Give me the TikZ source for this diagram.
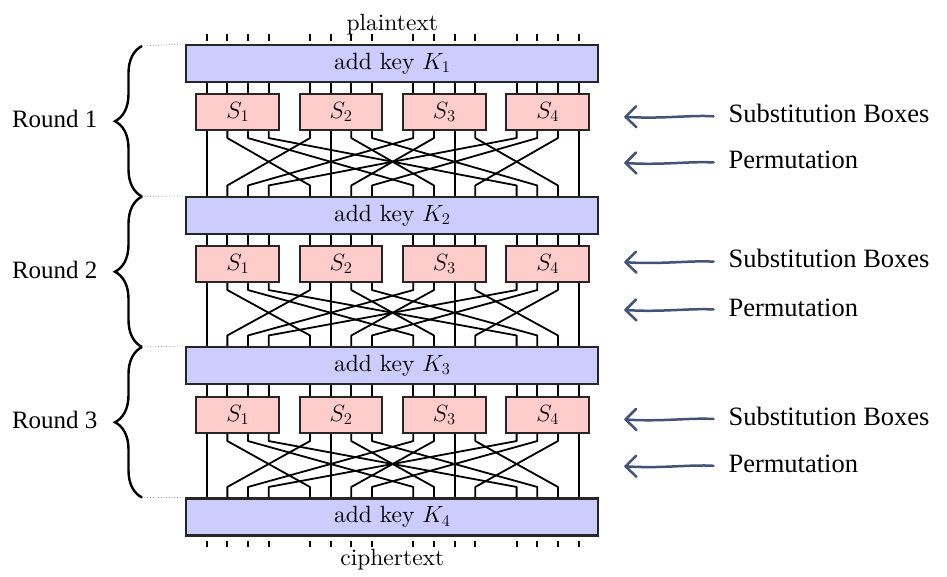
\RequirePackage{fix-cm}
\documentclass[tikz,border=0pt]{standalone}
\usepackage{fontspec}
\newfontfamily\serif{Liberation Serif}
\newfontfamily\lmten{lmroman10-regular}[Extension=.otf]
\usetikzlibrary{decorations.pathreplacing,calc}
\definecolor{keyfill}{RGB}{204,204,255}
\definecolor{sfill}{RGB}{255,204,204}
\definecolor{arrowc}{RGB}{66,82,120}
\begin{document}
\begin{tikzpicture}[x=1pt,y=-1pt,
  diag/.style={font=\lmten\fontsize{23.5}{28}\selectfont},
  keybox/.style={draw=black!85, line width=2.1pt, fill=keyfill, minimum width=412pt, minimum height=37pt, inner sep=0pt, diag},
  sbox/.style={draw=black!85, line width=2.1pt, fill=sfill, minimum width=82.7pt, minimum height=36pt, inner sep=0pt, diag},
  wire/.style={line width=1.8pt, black},
  dotline/.style={dotted, gray, line width=0.7pt},
  rbrace/.style={decorate, decoration={brace, amplitude=27pt}, line width=2.4pt},
  roundlbl/.style={anchor=base east, font=\serif\fontsize{25}{30}\selectfont},
  notelbl/.style={anchor=base west, font=\serif\fontsize{26.5}{30}\selectfont},
  handarrow/.style={arrowc, line width=2.5pt, line cap=round, line join=round}
]
\useasboundingbox (0,0) rectangle (947,577);

% bit positions
\foreach \n in {0,...,15}{
  \pgfmathsetmacro\bx{206.7+103.3*int(\n/4)+20.67*mod(\n,4)}
  \coordinate (b\n) at (\bx,0);
}

% wires first (under the boxes)
\foreach \r/\k/\y in {1/k1/112,2/k2/264,3/k3/415}{}

% key boxes
\node[keybox] (k1) at (392.3,63.5) {add key $K_1$};
\node[keybox] (k2) at (392.3,215.5) {add key $K_2$};
\node[keybox] (k3) at (392.3,365.5) {add key $K_3$};
\node[keybox] (k4) at (392.3,517) {add key $K_4$};

% s-boxes
\foreach \r/\y in {1/112,2/264,3/415}{
  \foreach \j in {1,...,4}{
    \pgfmathsetmacro\sx{237.7+103.3*(\j-1)}
    \node[sbox] (s\r\j) at (\sx,\y) {$S_{\j}$};
  }
}

% texts
\node[diag, anchor=base] (pt) at (392.3,30.5) {plaintext};
\node[diag, anchor=base] (ct) at (392.3,565) {ciphertext};

% ticks
\foreach \n in {0,...,15}{
  \draw[wire] ($(b\n |- k1.north)+(0,-3)$) -- ($(b\n |- k1.north)+(0,-10)$);
  \draw[wire] ($(b\n |- k4.south)+(0,4)$) -- ($(b\n |- k4.south)+(0,10)$);
}

% key -> sbox wires
\foreach \r/\k in {1/k1,2/k2,3/k3}{
  \foreach \n in {0,...,15}{
    \draw[wire] (b\n |- \k.south) -- (b\n |- s\r1.north);
  }
}

% permutations
\foreach \r/\k in {1/k2,2/k3,3/k4}{
  \foreach \j in {0,...,3}{
    \foreach \i in {0,...,3}{
      \pgfmathtruncatemacro\src{4*\j+\i}
      \pgfmathtruncatemacro\dst{4*\i+\j}
      \draw[wire, line join=round] (b\src |- s\r1.south) -- ($(b\src |- s\r1.south)+(0,7)$)
        -- ($(b\dst |- \k.north)+(0,-10.5)$) -- (b\dst |- \k.north);
    }
  }
}

% brace ends
\coordinate (c1) at (142,46);
\coordinate (c2) at (142,196.5);
\coordinate (c3) at (142,347);
\coordinate (c4) at (142,497.5);
\draw[dotline] (c1) -- (k1.north west);
\draw[dotline] (c2) -- (k2.north west);
\draw[dotline] (c3) -- (k3.north west);
\draw[dotline] (c4) -- (k4.north west);
\draw[rbrace] (c2) -- (c1);
\draw[rbrace] (c3) -- (c2);
\draw[rbrace] (c4) -- (c3);

\node[roundlbl] (r1) at (101,127.7) {Round 1};
\node[roundlbl] (r2) at (101,278) {Round 2};
\node[roundlbl] (r3) at (101,428.5) {Round 3};

% notes and arrows
\foreach \m/\ys/\yp in {1/122.3/169,2/267.7/316,3/425/472.3}{
  \node[notelbl] (sb\m) at (725,\ys) {Substitution Boxes};
  \node[notelbl] (pm\m) at (725,\yp) {Permutation};
  \pgfmathsetmacro\ya{\ys-5.5}
  \pgfmathsetmacro\yb{\yp-6}
  \coordinate (as\m) at (625.5,\ya);
  \coordinate (ap\m) at (625.5,\yb);
  \draw[handarrow] ($(sb\m.west |- as\m)+(-11.5,-0.5)$) .. controls ($(as\m)+(65,-2)$) and ($(as\m)+(35,2.5)$) .. (as\m);
  \draw[handarrow] (as\m) ++(10.5,-10.5) -- (as\m) -- ++(11,10.5);
  \draw[handarrow] ($(pm\m.west |- ap\m)+(-11.5,-0.5)$) .. controls ($(ap\m)+(65,-2)$) and ($(ap\m)+(35,2.5)$) .. (ap\m);
  \draw[handarrow] (ap\m) ++(10.5,-10.5) -- (ap\m) -- ++(11,10.5);
}
\end{tikzpicture}
\end{document}
